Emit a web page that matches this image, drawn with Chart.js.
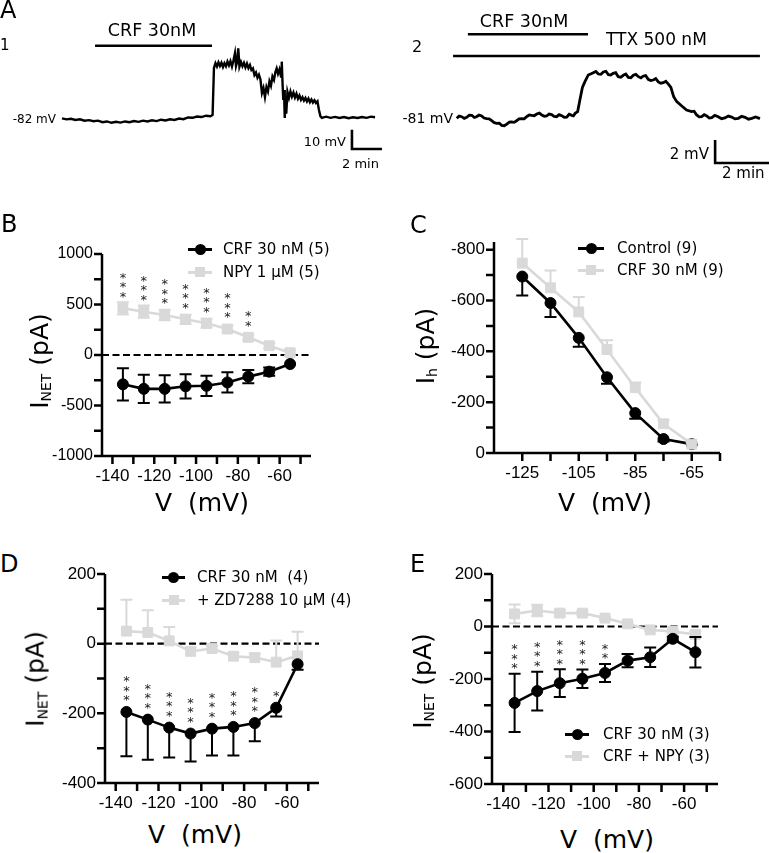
<!DOCTYPE html>
<html><head><meta charset="utf-8">
<script src="https://cdn.jsdelivr.net/npm/chart.js@4.4.1/dist/chart.umd.min.js"></script>
<style>
html,body{margin:0;padding:0;background:#fff}
body{position:relative;width:769px;height:853px;overflow:hidden;font-family:'DejaVu Sans',sans-serif;color:#000}
canvas{position:absolute}
.t{position:absolute;white-space:pre;color:#000}
.yt{position:absolute;white-space:pre;color:#000;transform:translate(-50%,-50%) rotate(-90deg)}
.yt sub{font-size:56%;vertical-align:-0.28em}
</style></head><body>
<script>
// ---------- DATA ----------
const a1Time = [0,0.3,0.6,0.9,1.2,1.5,1.8,2.1,2.4,2.7,3.0,3.3,3.6,3.9,4.2,4.5,4.8,5.1,5.4,5.7,6.0,6.3,6.6,6.9,7.2,7.5,7.8,8.1,8.4,8.7,9.0,9.3,9.6,9.9,10.04,
 10.13,10.23,10.33,10.43,10.53,10.63,10.73,10.83,10.93,11.03,11.13,11.23,11.33,11.43,11.53,11.6,11.67,11.75,11.83,11.93,12.03,12.13,12.23,12.33,12.43,12.53,12.63,12.73,12.83,12.93,13.03,13.13,13.23,13.33,13.43,13.53,13.63,13.73,13.83,13.93,14.03,14.13,14.23,14.31,14.4,14.5,14.6,14.65,14.7,14.75,14.8,14.85,14.9,14.95,15.03,15.13,15.23,15.33,15.43,15.53,15.63,15.73,15.83,15.93,16.03,16.13,16.23,16.33,16.43,16.53,16.63,16.73,16.83,16.93,17.03,17.13,17.23,17.33,
 17.6,17.9,18.2,18.5,18.8,19.1,19.4,19.7,20.0,20.3,20.6,20.87];
const a1Volt = [-81.4,-81.9,-81.6,-82.2,-81.9,-82.6,-82.3,-82.9,-82.6,-83.4,-83.0,-83.7,-83.2,-83.6,-83.0,-83.4,-82.8,-83.2,-82.6,-83.0,-82.4,-82.8,-82.1,-82.5,-81.9,-82.2,-81.5,-81.8,-80.9,-81.1,-80.4,-80.7,-80.0,-80.3,-79.6,
 -55.0,-52.5,-54.3,-52.1,-54.0,-52.3,-54.5,-52.5,-54.1,-51.7,-53.7,-51.5,-54.3,-51.1,-47.3,-54.0,-52.0,-44.7,-54.3,-51.9,-54.1,-52.3,-54.7,-52.7,-55.1,-53.5,-56.1,-55.3,-58.7,-57.4,-60.1,-58.5,-61.0,-68.1,-65.5,-70.2,-65.0,-67.3,-62.0,-64.3,-59.5,-61.3,-57.0,-55.2,-58.0,-55.7,-59.5,-51.7,-62.5,-71.8,-66.5,-81.2,-70.5,-79.0,-67.5,-70.7,-67.3,-70.0,-67.9,-70.5,-68.5,-71.1,-69.4,-71.7,-70.3,-72.1,-70.7,-72.5,-71.0,-72.9,-71.5,-73.1,-71.9,-73.3,-72.5,-77.0,-80.3,-81.1,
 -80.5,-81.1,-80.6,-81.2,-80.7,-81.3,-80.8,-81.2,-80.7,-81.1,-80.5,-80.8];
const a1Crf = [2.2, 10.0];
const a1ScaleBar = {t:19.33, v:-97.4, dv:10, dt:2};

const a2Time = [0.06,0.15,0.24,0.33,0.42,0.51,0.60,0.69,0.77,0.86,0.95,1.04,1.13,1.22,1.31,1.40,1.49,1.58,1.67,1.76,1.85,1.94,2.02,2.11,2.20,2.29,2.38,2.47,2.56,2.65,2.74,2.83,2.92,3.01,3.10,3.19,3.27,3.36,3.45,3.54,3.63,3.72,3.81,3.90,3.99,4.08,4.17,4.23,4.29,4.38,4.46,4.55,4.64,4.76,4.94,5.03,5.12,5.21,5.30,5.39,5.48,5.56,5.65,5.74,5.83,5.92,6.01,6.10,6.19,6.28,6.37,6.46,6.55,6.64,6.73,6.81,6.90,6.99,7.08,7.17,7.26,7.35,7.44,7.53,7.62,7.71,7.81,7.92,8.10,8.27,8.45,8.54,8.63,8.72,8.81,8.90,8.99,9.08,9.17,9.28,9.40,9.52,9.64,9.76,9.88,10.00,10.12,10.24,10.36,10.48,10.60,10.74,10.89];
const a2Volt = [-81.07,-80.88,-80.93,-81.08,-80.99,-80.80,-80.81,-81.00,-80.93,-80.78,-80.87,-81.05,-81.10,-81.12,-81.28,-81.45,-81.51,-81.50,-81.68,-81.72,-81.57,-81.40,-81.39,-81.42,-81.28,-81.12,-81.10,-81.12,-80.93,-80.78,-80.81,-80.85,-80.70,-80.62,-80.78,-80.90,-80.87,-80.70,-80.75,-80.90,-80.93,-80.75,-80.84,-80.98,-80.96,-80.72,-80.81,-80.85,-80.64,-80.49,-79.48,-78.38,-77.88,-77.30,-77.10,-77.00,-77.22,-77.25,-77.04,-76.98,-77.28,-77.30,-77.16,-77.10,-77.45,-77.50,-77.33,-77.22,-77.51,-77.55,-77.33,-77.25,-77.45,-77.55,-77.39,-77.35,-77.68,-77.78,-77.74,-77.62,-77.91,-78.02,-77.97,-77.85,-78.09,-78.38,-79.19,-79.62,-80.00,-80.35,-80.49,-80.45,-80.78,-80.95,-80.93,-80.75,-80.87,-81.05,-81.01,-80.82,-80.93,-81.10,-81.04,-80.88,-80.96,-81.12,-81.07,-80.90,-80.99,-81.15,-81.07,-80.95,-81.10];
const a2Crf = [0.46, 4.75];
const a2Ttx = [-0.07, 10.89];
const a2ScaleBar = {t:9.29, v:-84.96, dv:2, dt:2};

const ivV = [-135,-125,-115,-105,-95,-85,-75,-65,-55];
const bCrf = [-290,-335,-335,-310,-305,-272,-214,-165,-89];
const bCrfErr = [160,140,135,120,100,100,66,41,0];
const bNpy = [462,429,396,353,314,257,175,92,23];
const bNpyErr = [60,60,52,45,45,35,25,25,30];
const bStars = [3,3,3,3,3,3,2,0,0];

const cV = [-125,-115,-105,-95,-85,-75,-65];
const cCtrl = [-694,-590,-453,-298,-157,-55,-35];
const cCtrlErr = [74,55,35,26,22,10,0];
const cCrf = [-747,-650,-555,-407,-257,-115,-35];
const cCrfErr = [95,68,59,37,20,15,5];

const dCrf = [-196,-218,-241,-258,-244,-239,-228,-184,-59];
const dCrfErr = [127,115,86,80,77,82,52,25,16];
const dZd = [36,32,8,-22,-14,-36,-40,-53,-35];
const dZdErr = [90,64,40,10,8,10,12,62,69];
const dStars = [3,3,3,3,3,3,3,1,0];

const eCrf = [-291,-246,-216,-199,-177,-130,-117,-47,-98];
const eCrfErr = [111,74,53,35,34,25,37,8,58];
const eNpy = [48,61,51,51,32,10,-13,-19,-30];
const eNpyErr = [36,22,12,8,5,5,5,5,12];
const eStars = [3,3,3,3,2,0,0,0,0];

const ivXTicks = [-140,-130,-120,-110,-100,-90,-80,-70,-60,-50];
const ivXLabels = [-140,-120,-100,-80,-60];
const cXTicks = [-125,-115,-105,-95,-85,-75,-65,-55];
const cXLabels = [-125,-105,-85,-65];
const bYTicks = [-1000,-750,-500,-250,0,250,500,750,1000];
const bYLabels = [-1000,-500,0,500,1000];
const cYTicks = [0,-100,-200,-300,-400,-500,-600,-700,-800];
const cYLabels = [0,-200,-400,-600,-800];
const dYTicks = [-400,-300,-200,-100,0,100,200];
const dYLabels = [-400,-200,0,200];
const eYTicks = [-600,-500,-400,-300,-200,-100,0,100,200];
const eYLabels = [-600,-400,-200,0,200];

// ---------- HELPERS ----------
const GRAY = '#d9d9d9';
const TICKFONT = "'Liberation Sans', Arial, sans-serif";
function T(text, x, cy, size, align) {
  const d = document.createElement('div');
  d.className = 't';
  d.textContent = text;
  d.style.fontSize = size + 'px';
  d.style.lineHeight = size + 'px';
  d.style.left = x + 'px';
  d.style.top = (cy - size / 2) + 'px';
  if (align === 'center') d.style.transform = 'translateX(-50%)';
  if (align === 'right') d.style.transform = 'translateX(-100%)';
  document.body.appendChild(d);
  return d;
}
function YT(html, cx, cy, size) {
  const d = document.createElement('div');
  d.className = 'yt';
  d.innerHTML = html;
  d.style.fontSize = size + 'px';
  d.style.lineHeight = size + 'px';
  d.style.left = cx + 'px';
  d.style.top = cy + 'px';
  document.body.appendChild(d);
}
function box(l, t, w, h, bg, round) {
  const d = document.createElement('div');
  d.style.position = 'absolute';
  d.style.left = l + 'px'; d.style.top = t + 'px';
  d.style.width = w + 'px'; d.style.height = h + 'px';
  d.style.background = bg;
  if (round) d.style.borderRadius = '50%';
  document.body.appendChild(d);
  return d;
}
function legendRow(x1, x2, yc, tx, label, kind) {
  const col = kind === 'circle' ? '#000' : GRAY;
  box(x1, yc - 1.5, x2 - x1, 3, col);
  const cx = (x1 + x2) / 2;
  if (kind === 'circle') box(cx - 5.5, yc - 5.5, 11, 11, '#000', true);
  else box(cx - 5, yc - 5, 10, 10, GRAY);
  T(label, tx, yc, 15);
}
function mkCanvas(l, t, w, h) {
  const c = document.createElement('canvas');
  c.width = w; c.height = h;
  c.style.left = l + 'px'; c.style.top = t + 'px';
  c.style.width = w + 'px'; c.style.height = h + 'px';
  document.body.appendChild(c);
  return c;
}

// ---------- PANEL A traces ----------
function tracePlugin(o) {
  return {
    id: 'tr',
    afterDatasetsDraw(chart) {
      const {ctx, scales:{x, y}} = chart;
      ctx.save();
      ctx.strokeStyle = '#000'; ctx.lineWidth = 2.6; ctx.lineCap = 'butt';
      o.bars.forEach(b => {
        ctx.beginPath();
        ctx.moveTo(x.getPixelForValue(b.t[0]), b.py);
        ctx.lineTo(x.getPixelForValue(b.t[1]), b.py);
        ctx.stroke();
      });
      const s = o.scale;
      const x0 = x.getPixelForValue(s.t), y0 = y.getPixelForValue(s.v);
      ctx.beginPath();
      ctx.moveTo(x0, y.getPixelForValue(s.v + s.dv));
      ctx.lineTo(x0, y0);
      ctx.lineTo(x.getPixelForValue(s.t + s.dt), y0);
      ctx.stroke();
      ctx.restore();
    }
  };
}
function traceChart(o) {
  const cv = mkCanvas(o.canvas[0], o.canvas[1], o.canvas[2], o.canvas[3]);
  new Chart(cv, {
    type: 'line',
    data: {datasets: [{
      data: o.t.map((t, i) => ({x: t, y: o.v[i]})),
      borderColor: '#000', borderWidth: o.lw, pointRadius: 0, tension: 0, clip: false,
      borderJoinStyle: 'miter'
    }]},
    options: {
      responsive: false, animation: false, events: [],
      layout: {padding: o.pad},
      plugins: {legend: {display: false}, tooltip: {enabled: false}},
      scales: {
        x: {type: 'linear', display: false, min: o.xr[0], max: o.xr[1]},
        y: {type: 'linear', display: false, min: o.yr[0], max: o.yr[1]}
      }
    },
    plugins: [tracePlugin(o)]
  });
}
traceChart({canvas:[0,0,385,180], pad:{left:62,right:8,top:45,bottom:49}, xr:[0,21], yr:[-88,-43],
  t:a1Time, v:a1Volt, lw:2.4, bars:[{t:a1Crf, py:45.7}], scale:a1ScaleBar});
traceChart({canvas:[385,0,384,180], pad:{left:70,right:6,top:60,bottom:51}, xr:[0,11], yr:[-82,-76],
  t:a2Time, v:a2Volt, lw:2.8, bars:[{t:a2Crf, py:34.3},{t:a2Ttx, py:56}], scale:a2ScaleBar});

// ---------- I-V panels ----------
function ivPlugin(o) {
  return {
    id: 'iv',
    beforeDatasetsDraw(chart) {
      if (!o.zero) return;
      const {ctx, chartArea: a, scales: {y}} = chart;
      const py = y.getPixelForValue(0);
      ctx.save();
      ctx.strokeStyle = '#000'; ctx.lineWidth = 2.2; ctx.setLineDash([7, 3.5]);
      ctx.beginPath(); ctx.moveTo(a.left, py); ctx.lineTo(a.right, py); ctx.stroke();
      ctx.restore();
    },
    beforeDatasetDraw(chart, args) {
      const ds = chart.data.datasets[args.index];
      if (!ds.err) return;
      const {ctx, scales: {x, y}} = chart;
      ctx.save();
      ctx.strokeStyle = ds.borderColor; ctx.lineWidth = 2;
      ds.data.forEach((p, i) => {
        const e = ds.err[i];
        if (!e) return;
        const px = x.getPixelForValue(p.x);
        const hi = ds.errDir === 'minus' ? p.y : p.y + e;
        const lo = ds.errDir === 'plus' ? p.y : p.y - e;
        const yh = y.getPixelForValue(hi), yl = y.getPixelForValue(lo);
        ctx.beginPath();
        ctx.moveTo(px, yh); ctx.lineTo(px, yl);
        if (ds.errDir !== 'minus') { ctx.moveTo(px - 6, yh); ctx.lineTo(px + 6, yh); }
        if (ds.errDir !== 'plus') { ctx.moveTo(px - 6, yl); ctx.lineTo(px + 6, yl); }
        ctx.stroke();
      });
      ctx.restore();
    },
    afterDatasetsDraw(chart) {
      const {ctx, chartArea: a, scales: {x, y}} = chart;
      // axes drawn as one path: y ticks, L-shaped axis lines, x ticks
      ctx.save();
      ctx.strokeStyle = '#000'; ctx.lineWidth = 2.5; ctx.lineCap = 'butt'; ctx.lineJoin = 'miter';
      ctx.setLineDash([]);
      ctx.beginPath();
      y.ticks.forEach(t => {
        const py = y.getPixelForValue(t.value);
        ctx.moveTo(a.left - 8, py); ctx.lineTo(a.left, py);
      });
      x.ticks.forEach(t => {
        const px = x.getPixelForValue(t.value);
        ctx.moveTo(px, a.bottom); ctx.lineTo(px, a.bottom + 8);
      });
      ctx.moveTo(a.left, a.top); ctx.lineTo(a.left, a.bottom); ctx.lineTo(a.right, a.bottom);
      ctx.stroke();
      ctx.restore();

      if (!o.stars) return;
      const ds = chart.data.datasets[o.stars.series];
      ctx.save();
      ctx.fillStyle = '#222'; ctx.font = "13px 'DejaVu Sans'";
      ctx.textAlign = 'center'; ctx.textBaseline = 'alphabetic';
      ds.data.forEach((p, i) => {
        const n = o.stars.counts[i];
        if (!n) return;
        const px = x.getPixelForValue(p.x);
        let top = y.getPixelForValue(p.y) - 6;
        if (ds.err && ds.errDir !== 'minus' && ds.err[i]) top = Math.min(top, y.getPixelForValue(p.y + ds.err[i]));
        for (let k = 0; k < n; k++) {
          const cy = top - 9.5 - k * 9.5;
          ctx.fillText('*', px, cy + 7.8);
        }
      });
      ctx.restore();
    }
  };
}
function ivChart(o) {
  const yW = 75, xH = 35, pT = 12, pR = 12;
  const L = o.area[0] - yW, Tp = o.area[1] - pT;
  const W = o.area[2] + pR - L, H = o.area[3] + xH - Tp;
  const cv = mkCanvas(L, Tp, W, H);
  const datasets = o.series.map(s => ({
    data: o.xv.map((v, i) => ({x: v, y: s.y[i]})),
    err: s.err, errDir: s.dir, order: s.order || 0,
    borderColor: s.color, backgroundColor: s.color, borderWidth: 2.6,
    pointStyle: s.shape, pointRadius: s.shape === 'rect' ? 7 : 5.5,
    pointBackgroundColor: s.color, pointBorderColor: s.color, pointBorderWidth: 1,
    tension: 0, clip: false
  }));
  new Chart(cv, {
    type: 'line',
    data: {datasets},
    options: {
      responsive: false, animation: false, events: [],
      layout: {padding: {left: 0, top: pT, right: pR, bottom: 0}},
      plugins: {legend: {display: false}, tooltip: {enabled: false}},
      scales: {
        x: {
          type: 'linear', min: o.xr[0], max: o.xr[1],
          grid: {display: false, drawTicks: true, tickLength: 7},
          border: {display: false},
          ticks: {font: {family: TICKFONT, size: 17}, color: '#000', padding: 3, autoSkip: false, maxRotation: 0, minRotation: 0,
            callback: v => o.xLab.includes(v) ? String(v) : ''},
          afterBuildTicks: s => { s.ticks = o.xTicks.map(v => ({value: v})); },
          afterFit: s => { s.height = xH; s.paddingLeft = 0; s.paddingRight = 0; }
        },
        y: {
          type: 'linear', min: o.yr[0], max: o.yr[1], reverse: !!o.reverse,
          grid: {display: false, drawTicks: true, tickLength: 7},
          border: {display: false},
          ticks: {font: {family: TICKFONT, size: o.yfs || 17}, color: '#000', padding: 2, autoSkip: false,
            callback: v => o.yLab.includes(v) ? String(v) : ''},
          afterBuildTicks: s => { s.ticks = o.yTicks.map(v => ({value: v})); },
          afterFit: s => { s.width = yW; s.paddingTop = 0; s.paddingBottom = 0; }
        }
      }
    },
    plugins: [ivPlugin(o)]
  });
}

// B
ivChart({area:[102,254,311,456], xr:[-145,-45], yr:[-1000,1000], xv:ivV, xTicks:ivXTicks, xLab:ivXLabels,
  yTicks:bYTicks, yLab:bYLabels, yfs:16, zero:true,
  series:[{y:bCrf, err:bCrfErr, dir:'both', color:'#000', shape:'circle'},
          {y:bNpy, err:bNpyErr, dir:'both', color:GRAY, shape:'rect'}],
  stars:{series:1, counts:bStars}});
// C
ivChart({area:[494,242,720,453], xr:[-135,-55], yr:[-830,0], reverse:true, xv:cV, xTicks:cXTicks, xLab:cXLabels,
  yTicks:cYTicks, yLab:cYLabels, zero:false,
  series:[{y:cCtrl, err:cCtrlErr, dir:'plus', color:'#000', shape:'circle', order:1},
          {y:cCrf, err:cCrfErr, dir:'minus', color:GRAY, shape:'rect', order:0}]});
// D
ivChart({area:[105,574,319,783], xr:[-145,-45], yr:[-400,200], xv:ivV, xTicks:ivXTicks, xLab:ivXLabels,
  yTicks:dYTicks, yLab:dYLabels, zero:true,
  series:[{y:dCrf, err:dCrfErr, dir:'minus', color:'#000', shape:'circle'},
          {y:dZd, err:dZdErr, dir:'plus', color:GRAY, shape:'rect'}],
  stars:{series:0, counts:dStars}});
// E
ivChart({area:[492,574,718,784], xr:[-145,-45], yr:[-600,200], xv:ivV, xTicks:ivXTicks, xLab:ivXLabels,
  yTicks:eYTicks, yLab:eYLabels, zero:true,
  series:[{y:eCrf, err:eCrfErr, dir:'both', color:'#000', shape:'circle'},
          {y:eNpy, err:eNpyErr, dir:'both', color:GRAY, shape:'rect'}],
  stars:{series:0, counts:eStars}});

// ---------- TEXT ----------
T('A', 0, 9.5, 24);
T('1', 0, 45, 15);
T('CRF 30nM', 152, 31, 17.5, 'center');
T('-82 mV', 56, 119, 12, 'right');
T('10 mV', 346, 141, 13, 'right');
T('2 min', 342, 163.5, 13);
T('2', 412, 47, 16);
T('CRF 30nM', 524, 21.7, 17.5, 'center');
T('TTX 500 nM', 606, 39, 17);
T('-81 mV', 453, 118, 14, 'right');
T('2 mV', 709, 154, 15, 'right');
T('2 min', 722, 173, 15);

T('B', 1, 223.5, 24);
T('C', 410, 225, 24);
T('D', 0, 563.5, 24);
T('E', 410, 563.5, 24);

T('V  (mV)', 202, 502, 25, 'center');
T('V  (mV)', 605, 502, 25, 'center');
T('V  (mV)', 195, 834, 25, 'center');
T('V  (mV)', 607, 839, 25, 'center');
YT('I<sub>NET</sub> (pA)', 43, 361, 25);
YT('I<sub>h</sub> (pA)', 429, 346, 25);
YT('I<sub>NET</sub> (pA)', 39, 679, 25);
YT('I<sub>NET</sub> (pA)', 426, 681, 25);

legendRow(188, 212, 249, 223, 'CRF 30 nM (5)', 'circle');
legendRow(188, 212, 272, 223, 'NPY 1 \u03bcM (5)', 'rect');
legendRow(578, 604, 248, 617, 'Control (9)', 'circle');
legendRow(578, 604, 270, 617, 'CRF 30 nM (9)', 'rect');
legendRow(162, 185, 577, 197, 'CRF 30 nM  (4)', 'circle');
legendRow(162, 185, 600, 197, '+ ZD7288 10 \u03bcM (4)', 'rect');
legendRow(565, 589, 734, 603, 'CRF 30 nM (3)', 'circle');
legendRow(565, 589, 756, 603, 'CRF + NPY (3)', 'rect');
</script>
</body></html>
